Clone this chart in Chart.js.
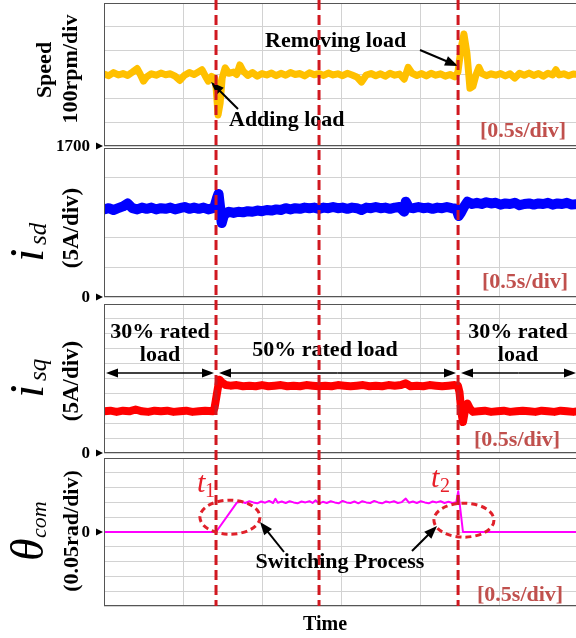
<!DOCTYPE html>
<html><head><meta charset="utf-8">
<script src="https://cdn.jsdelivr.net/npm/chart.js@4/dist/chart.umd.min.js"></script>
<style>
html,body{margin:0;padding:0;background:#fff;width:576px;height:638px;overflow:hidden;position:relative}
canvas{position:absolute;left:0;top:0}
</style></head><body>
<canvas id="c1" width="580" height="638"></canvas>
<canvas id="c2" width="580" height="638"></canvas>
<canvas id="c3" width="580" height="638"></canvas>
<canvas id="c4" width="580" height="638"></canvas>
<script>
// ---------- DATA ----------
const timeRange = [0, 3];          // s, 0.5 s/div
const timeStep = 0.5;
const eventTimes = [0.709, 1.361, 2.241]; // red dashed markers (t1, mid, t2)

// speed (rpm), [t, value]
const speed = [[0,2002],[0.03,1995],[0.06,2008],[0.09,1998],[0.12,2004],[0.15,1996],[0.18,2010],[0.21,2025],[0.23,2000],[0.25,1972],[0.27,1990],[0.30,2003],[0.33,1997],[0.36,2006],[0.39,1999],[0.42,2003],[0.45,1993],[0.48,1975],[0.51,1997],[0.54,2008],[0.57,2000],[0.60,2012],[0.62,2020],[0.64,1995],[0.66,1972],[0.68,1992],[0.70,1985],[0.71,1940],[0.722,1830],[0.735,1880],[0.748,1985],[0.767,2028],[0.79,2005],[0.82,2010],[0.84,2000],[0.86,2040],[0.88,2015],[0.91,1996],[0.94,2008],[0.97,1993],[1.00,2004],[1.03,1998],[1.06,2006],[1.09,1995],[1.12,2005],[1.15,1997],[1.18,2008],[1.21,2000],[1.24,2004],[1.27,1994],[1.30,2007],[1.33,1999],[1.36,2004],[1.39,1996],[1.42,2006],[1.45,1998],[1.48,2003],[1.51,1995],[1.54,2005],[1.57,1998],[1.60,1990],[1.63,1968],[1.66,1998],[1.69,2004],[1.72,1995],[1.75,2003],[1.78,1993],[1.81,2005],[1.84,1997],[1.87,2002],[1.90,1980],[1.925,2030],[1.95,2005],[1.98,1996],[2.01,2004],[2.04,1994],[2.07,2005],[2.10,1997],[2.13,2003],[2.16,1993],[2.19,2000],[2.22,1990],[2.24,2010],[2.26,2110],[2.278,2170],[2.297,2090],[2.316,1942],[2.335,1950],[2.355,2000],[2.373,2030],[2.39,2005],[2.42,1995],[2.45,2003],[2.48,1997],[2.51,2004],[2.54,1994],[2.57,2003],[2.60,1985],[2.63,2005],[2.66,1997],[2.69,2006],[2.72,1996],[2.75,2004],[2.78,1993],[2.81,2005],[2.84,1998],[2.86,2020],[2.88,1998],[2.91,2003],[2.94,1995],[2.97,2002],[3.00,2000]];

// i_sd (A)
const isd = [[0,14.7],[0.03,14.9],[0.06,14.6],[0.09,14.9],[0.12,15.2],[0.15,15.7],[0.18,14.9],[0.21,14.7],[0.24,15.0],[0.27,14.8],[0.30,15.0],[0.33,14.7],[0.36,14.9],[0.39,14.8],[0.42,15.0],[0.45,14.7],[0.48,14.9],[0.51,15.1],[0.54,14.8],[0.57,15.0],[0.60,14.8],[0.63,15.0],[0.66,14.7],[0.69,14.9],[0.70,15.2],[0.715,16.6],[0.725,17.3],[0.735,15.0],[0.745,12.4],[0.76,13.8],[0.79,14.3],[0.82,14.1],[0.85,14.3],[0.88,14.2],[0.91,14.4],[0.94,14.3],[0.97,14.5],[1.00,14.4],[1.03,14.6],[1.06,14.5],[1.09,14.7],[1.12,14.6],[1.15,14.9],[1.18,14.7],[1.21,14.9],[1.24,14.8],[1.27,15.0],[1.30,14.9],[1.33,15.0],[1.36,14.8],[1.39,15.0],[1.42,14.9],[1.45,15.1],[1.48,14.9],[1.51,15.0],[1.54,14.8],[1.57,15.0],[1.60,14.9],[1.63,14.6],[1.66,15.0],[1.69,14.9],[1.72,15.1],[1.75,14.9],[1.78,15.0],[1.81,14.8],[1.84,15.0],[1.87,15.1],[1.90,14.3],[1.91,16.0],[1.93,15.0],[1.96,14.9],[1.99,15.1],[2.02,14.9],[2.05,15.0],[2.08,14.8],[2.11,15.0],[2.14,14.9],[2.17,15.1],[2.20,14.9],[2.23,14.8],[2.245,13.6],[2.26,14.2],[2.28,15.2],[2.30,16.0],[2.33,15.6],[2.36,15.8],[2.39,15.6],[2.42,15.9],[2.45,15.7],[2.48,15.8],[2.51,15.5],[2.54,15.7],[2.57,15.6],[2.60,15.8],[2.63,15.4],[2.66,15.6],[2.69,15.7],[2.72,15.5],[2.75,15.7],[2.78,15.6],[2.81,15.8],[2.84,15.5],[2.87,15.7],[2.90,15.6],[2.93,15.8],[2.96,15.5],[3.00,15.6]];

// i_sq (A)
const isq = [[0,7.0],[0.04,7.1],[0.08,6.9],[0.12,7.1],[0.16,7.0],[0.20,7.3],[0.24,7.0],[0.28,6.9],[0.32,7.1],[0.36,7.0],[0.40,7.1],[0.44,6.9],[0.48,7.0],[0.52,7.1],[0.56,6.9],[0.60,7.0],[0.64,7.1],[0.69,7.0],[0.70,7.6],[0.715,10.0],[0.73,12.3],[0.745,11.9],[0.77,11.4],[0.80,11.3],[0.84,11.4],[0.88,11.2],[0.92,11.3],[0.96,11.2],[1.00,11.4],[1.04,11.2],[1.08,11.3],[1.12,11.4],[1.16,11.2],[1.20,11.3],[1.24,11.2],[1.28,11.4],[1.32,11.3],[1.36,11.2],[1.40,11.3],[1.44,11.2],[1.48,11.4],[1.52,11.3],[1.56,11.2],[1.60,11.3],[1.64,11.4],[1.68,11.2],[1.72,11.3],[1.76,11.2],[1.80,11.4],[1.84,11.3],[1.88,11.4],[1.91,11.7],[1.94,11.2],[1.98,11.3],[2.02,11.2],[2.06,11.4],[2.10,11.3],[2.14,11.2],[2.18,11.3],[2.22,11.4],[2.24,11.3],[2.25,10.2],[2.262,6.8],[2.272,5.2],[2.285,7.2],[2.30,8.3],[2.315,7.5],[2.335,6.9],[2.37,7.0],[2.41,7.1],[2.45,6.9],[2.49,7.0],[2.53,7.1],[2.57,6.9],[2.61,7.0],[2.65,7.1],[2.69,7.0],[2.73,6.9],[2.77,7.1],[2.81,7.0],[2.85,6.9],[2.89,7.1],[2.93,7.0],[2.97,6.9],[3.00,7.0]];

// theta_com (rad)
const theta = [[0,0],[0.709,0],[0.842,0.1],[0.87,0.102],[0.895,0.098],[0.92,0.104],[0.945,0.1],[0.97,0.097],[0.995,0.103],[1.02,0.099],[1.045,0.105],[1.07,0.098],[1.085,0.112],[1.10,0.099],[1.125,0.103],[1.15,0.098],[1.175,0.104],[1.20,0.1],[1.225,0.097],[1.25,0.103],[1.275,0.1],[1.30,0.104],[1.32,0.098],[1.34,0.107],[1.36,0.096],[1.385,0.102],[1.41,0.098],[1.435,0.104],[1.46,0.1],[1.485,0.097],[1.51,0.105],[1.535,0.1],[1.56,0.098],[1.585,0.103],[1.61,0.097],[1.635,0.104],[1.66,0.1],[1.685,0.098],[1.71,0.105],[1.735,0.1],[1.76,0.097],[1.785,0.103],[1.81,0.1],[1.835,0.104],[1.86,0.098],[1.885,0.101],[1.91,0.113],[1.93,0.099],[1.955,0.103],[1.98,0.098],[2.005,0.104],[2.03,0.1],[2.055,0.097],[2.08,0.103],[2.105,0.1],[2.13,0.104],[2.155,0.098],[2.18,0.102],[2.205,0.098],[2.23,0.101],[2.242,0.138],[2.272,0],[3.00,0]];

// axis ranges [min, max, step]
const speedAxis = [1700, 2300, 100];
const isdAxis = [0, 25, 5];
const isqAxis = [0, 25, 2.5];
const thetaAxis = [-0.25, 0.25, 0.05];

// ---------- LAYOUT / STYLE ----------
const W = 580, H = 638;
const LEFT = 104, RIGHT = 578;
const SERIF = '"Liberation Serif", "Times New Roman", serif';
const GRID = '#d2d2d2';
const DIVCOL = '#c0504d';

function arrowTo(ctx, x1, y1, x2, y2, head, half) {
  head = head || 12; half = half || 4.5;
  const a = Math.atan2(y2 - y1, x2 - x1), c = Math.cos(a), s = Math.sin(a);
  ctx.beginPath(); ctx.moveTo(x1, y1); ctx.lineTo(x2 - c * head * 0.7, y2 - s * head * 0.7); ctx.stroke();
  ctx.beginPath(); ctx.moveTo(x2, y2);
  ctx.lineTo(x2 - head * c + half * s, y2 - head * s - half * c);
  ctx.lineTo(x2 - head * c - half * s, y2 - head * s + half * c);
  ctx.closePath(); ctx.fill();
}
function rotParts(ctx, x, y, parts) {
  ctx.save(); ctx.translate(x, y); ctx.rotate(-Math.PI / 2);
  ctx.textAlign = 'left'; ctx.textBaseline = 'alphabetic'; ctx.fillStyle = '#000';
  parts.forEach(p => { ctx.font = p[1]; ctx.fillText(p[0], p[2], p[3]); });
  ctx.restore();
}
function rotCenter(ctx, x, y, text, font) {
  ctx.save(); ctx.translate(x, y); ctx.rotate(-Math.PI / 2);
  ctx.textAlign = 'center'; ctx.textBaseline = 'alphabetic'; ctx.fillStyle = '#000';
  ctx.font = font; ctx.fillText(text, 0, 0); ctx.restore();
}
function tickMark(ctx, label, y) {
  ctx.fillStyle = '#000'; ctx.font = 'bold 17px ' + SERIF;
  ctx.textAlign = 'right'; ctx.textBaseline = 'middle';
  ctx.fillText(label, 90, y + 1);
  ctx.beginPath(); ctx.moveTo(96, y - 3.5); ctx.lineTo(103, y); ctx.lineTo(96, y + 3.5); ctx.closePath(); ctx.fill();
}

function panelPlugin(draw) {
  return {
    id: 'panel',
    afterDatasetsDraw(chart) {
      const ctx = chart.ctx, a = chart.chartArea;
      ctx.save();
      ctx.strokeStyle = '#555'; ctx.lineWidth = 1;
      ctx.strokeRect(a.left + 0.5, a.top + 0.5, a.right - a.left - 1, a.bottom - a.top - 1);
      draw(ctx, chart);
      ctx.restore();
    }
  };
}

function makeChart(id, series, color, lw, axis, top, bottom, draw) {
  return new Chart(document.getElementById(id), {
    type: 'line',
    data: { datasets: [{ data: series.map(p => ({ x: p[0], y: p[1] })), borderColor: color, borderWidth: lw,
      pointRadius: 0, tension: 0, fill: false, borderJoinStyle: 'round', borderCapStyle: 'round' }] },
    options: {
      responsive: false, animation: false, devicePixelRatio: 1,
      layout: { padding: { left: LEFT, right: W - RIGHT, top: top, bottom: H - bottom } },
      plugins: { legend: { display: false }, tooltip: { enabled: false } },
      scales: {
        x: { type: 'linear', min: timeRange[0], max: timeRange[1], ticks: { display: false, stepSize: timeStep },
             grid: { color: GRID, drawTicks: false }, border: { display: false }, afterFit: s => { s.height = 0; } },
        y: { type: 'linear', min: axis[0], max: axis[1], ticks: { display: false, stepSize: axis[2] },
             grid: { color: GRID, drawTicks: false }, border: { display: false }, afterFit: s => { s.width = 0; } }
      }
    },
    plugins: [panelPlugin(draw)]
  });
}

function divLabel(ctx, x, y) {
  ctx.fillStyle = DIVCOL; ctx.font = 'bold 22px ' + SERIF; ctx.textAlign = 'left'; ctx.textBaseline = 'alphabetic';
  ctx.fillText('[0.5s/div]', x, y);
}

// Panel 1: speed
makeChart('c1', speed, '#ffc000', 7, speedAxis, 3, 146, (ctx, ch) => {
  const ys = ch.scales.y;
  tickMark(ctx, '1700', ys.getPixelForValue(speedAxis[0]));
  rotCenter(ctx, 51, 70, 'Speed', 'bold 22px ' + SERIF);
  rotCenter(ctx, 77, 69, '100rpm/div', 'bold 22px ' + SERIF);
  ctx.fillStyle = '#000'; ctx.font = 'bold 22px ' + SERIF; ctx.textAlign = 'left'; ctx.textBaseline = 'alphabetic';
  ctx.fillText('Removing load', 265, 47);
  ctx.fillText('Adding load', 229, 126);
  ctx.strokeStyle = '#000'; ctx.lineWidth = 2;
  arrowTo(ctx, 420, 50, 458, 66, 13, 5);
  arrowTo(ctx, 238, 109, 211, 82, 13, 5);
  divLabel(ctx, 480, 137);
});

// Panel 2: isd
makeChart('c2', isd, '#0000ff', 10, isdAxis, 148, 297, (ctx, ch) => {
  const ys = ch.scales.y;
  tickMark(ctx, '0', ys.getPixelForValue(0));
  rotParts(ctx, 43, 262, [['i', 'italic 48px ' + SERIF, 0, 0], ['sd', 'italic 25px ' + SERIF, 17, 3]]);
  rotCenter(ctx, 78, 228, '(5A/div)', 'bold 23px ' + SERIF);
  divLabel(ctx, 482, 288);
});

// Panel 3: isq
makeChart('c3', isq, '#ff0000', 8, isqAxis, 304, 453, (ctx, ch) => {
  const ys = ch.scales.y;
  tickMark(ctx, '0', ys.getPixelForValue(0));
  rotParts(ctx, 43, 398, [['i', 'italic 48px ' + SERIF, 0, 0], ['sq', 'italic 25px ' + SERIF, 17, 3]]);
  rotCenter(ctx, 78, 381, '(5A/div)', 'bold 23px ' + SERIF);
  ctx.fillStyle = '#000'; ctx.font = 'bold 22px ' + SERIF; ctx.textAlign = 'center'; ctx.textBaseline = 'alphabetic';
  ctx.fillText('30% rated', 160, 338);
  ctx.fillText('load', 160, 361);
  ctx.fillText('50% rated load', 325, 356);
  ctx.fillText('30% rated', 518, 338);
  ctx.fillText('load', 518, 361);
  ctx.strokeStyle = '#000'; ctx.lineWidth = 1.5;
  const ay = 373;
  [[106, 214], [219, 456], [461, 576]].forEach(s => {
    const m = (s[0] + s[1]) / 2;
    arrowTo(ctx, m, ay, s[0], ay, 12, 4.5);
    arrowTo(ctx, m, ay, s[1], ay, 12, 4.5);
  });
  divLabel(ctx, 474, 446);
});

// Panel 4: theta
makeChart('c4', theta, '#ff00ff', 2, thetaAxis, 458, 606, (ctx, ch) => {
  const xs = ch.scales.x, ys = ch.scales.y;
  tickMark(ctx, '0', ys.getPixelForValue(0));
  rotParts(ctx, 43, 561, [['\u03b8', 'italic 46px ' + SERIF, 0, 0], ['com', 'italic 22px ' + SERIF, 23, 3]]);
  rotCenter(ctx, 78, 531, '(0.05rad/div)', 'bold 22px ' + SERIF);
  ctx.strokeStyle = '#d01820'; ctx.lineWidth = 3; ctx.setLineDash([10, 5]);
  eventTimes.forEach(t => {
    const x = xs.getPixelForValue(t);
    ctx.beginPath(); ctx.moveTo(x, 0); ctx.lineTo(x, ch.chartArea.bottom); ctx.stroke();
  });
  ctx.setLineDash([6, 4]); ctx.lineWidth = 3; ctx.strokeStyle = '#e0202a';
  [[0.797, 0.05], [2.278, 0.04]].forEach(e => {
    ctx.beginPath(); ctx.ellipse(xs.getPixelForValue(e[0]), ys.getPixelForValue(e[1]), 30, 17, 0, 0, Math.PI * 2); ctx.stroke();
  });
  ctx.setLineDash([]);
  ctx.fillStyle = '#e8202a'; ctx.textAlign = 'left'; ctx.textBaseline = 'alphabetic';
  ctx.font = 'italic 30px ' + SERIF; ctx.fillText('t', 197, 492);
  ctx.font = '20px ' + SERIF; ctx.fillText('1', 205, 497);
  ctx.font = 'italic 30px ' + SERIF; ctx.fillText('t', 431, 487);
  ctx.font = '20px ' + SERIF; ctx.fillText('2', 440, 492);
  ctx.fillStyle = '#000'; ctx.font = 'bold 22px ' + SERIF; ctx.textAlign = 'center';
  ctx.fillText('Switching Process', 340, 568);
  ctx.strokeStyle = '#000'; ctx.lineWidth = 2;
  arrowTo(ctx, 284, 552, 260, 522, 13, 5);
  arrowTo(ctx, 412, 551, 437, 526, 13, 5);
  divLabel(ctx, 477, 601);
  ctx.fillStyle = '#000'; ctx.font = 'bold 20px ' + SERIF; ctx.textAlign = 'center';
  ctx.fillText('Time', 325, 630);
});
</script>
</body></html>
